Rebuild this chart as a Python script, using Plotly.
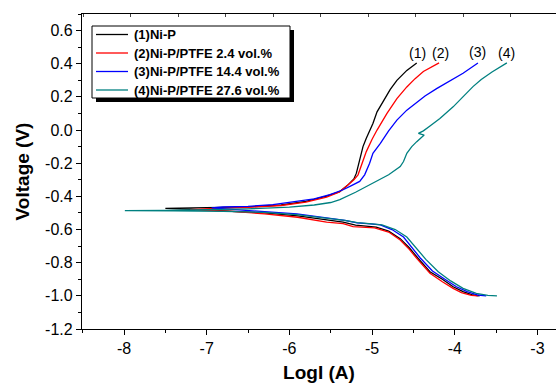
import plotly.graph_objects as go

# ---------------- data ----------------
series_names = ["(1)Ni-P", "(2)Ni-P/PTFE 2.4 vol.%", "(3)Ni-P/PTFE 14.4 vol.%", "(4)Ni-P/PTFE 27.6 vol.%"]
series_colors = ["#000000", "#FF0000", "#0000FF", "#008080"]
curve_labels = ["(1)", "(2)", "(3)", "(4)"]

# (1) Ni-P : cathodic branch (from -1.0 V) then anodic branch
logI_1 = [-3.70, -3.78, -3.90, -4.02, -4.15, -4.30, -4.45, -4.55, -4.66, -4.80, -4.95, -5.05, -5.20, -5.35,
          -5.55, -5.90, -6.30, -6.70, -7.10, -7.50,
          -7.30, -6.90, -6.50, -6.10, -5.80, -5.55, -5.39, -5.30, -5.22, -5.19, -5.15, -5.11, -5.07, -4.99,
          -4.94, -4.86, -4.78, -4.70, -4.58, -4.46]
volt_1 = [-1.000, -0.995, -0.975, -0.945, -0.900, -0.855, -0.770, -0.710, -0.655, -0.610, -0.585, -0.580, -0.573, -0.555,
          -0.540, -0.518, -0.500, -0.488, -0.480, -0.472,
          -0.470, -0.468, -0.463, -0.452, -0.430, -0.398, -0.371, -0.335, -0.295, -0.260, -0.180, -0.100, -0.050, 0.040,
          0.110, 0.180, 0.245, 0.300, 0.360, 0.405]

# (2) Ni-P/PTFE 2.4 vol.%
logI_2 = [-3.72, -3.80, -3.92, -4.02, -4.15, -4.30, -4.45, -4.55, -4.66, -4.80, -4.97, -5.10, -5.23, -5.35,
          -5.55, -5.90, -6.30, -6.70, -7.20,
          -6.90, -6.50, -6.10, -5.80, -5.55, -5.40, -5.30, -5.22, -5.17, -5.12, -5.07, -5.00, -4.94, -4.82, -4.70,
          -4.58, -4.48, -4.38, -4.19]
volt_2 = [-1.000, -0.997, -0.980, -0.955, -0.915, -0.864, -0.780, -0.720, -0.663, -0.615, -0.590, -0.588, -0.583, -0.565,
          -0.555, -0.526, -0.505, -0.490, -0.480,
          -0.472, -0.466, -0.455, -0.435, -0.405, -0.375, -0.335, -0.300, -0.270, -0.200, -0.130, -0.055, 0.000, 0.100, 0.190,
          0.260, 0.310, 0.353, 0.405]

# (3) Ni-P/PTFE 14.4 vol.%
logI_3 = [-3.62, -3.72, -3.85, -3.98, -4.12, -4.27, -4.42, -4.52, -4.62, -4.76, -4.90, -5.02, -5.18, -5.33,
          -5.51, -5.91, -6.30, -6.60, -6.94,
          -6.80, -6.50, -6.20, -5.91, -5.70, -5.51, -5.35, -5.25, -5.15, -5.09, -5.03, -4.99, -4.90, -4.80, -4.70,
          -4.58, -4.50, -4.36, -4.22, -4.05, -3.90, -3.72]
volt_3 = [-1.000, -0.995, -0.975, -0.945, -0.900, -0.850, -0.770, -0.710, -0.645, -0.600, -0.572, -0.566, -0.560, -0.545,
          -0.532, -0.506, -0.492, -0.482, -0.470,
          -0.464, -0.460, -0.450, -0.432, -0.415, -0.390, -0.360, -0.335, -0.310, -0.270, -0.200, -0.140, -0.080, -0.005, 0.060,
          0.120, 0.150, 0.205, 0.250, 0.300, 0.343, 0.405]

# (4) Ni-P/PTFE 27.6 vol.%
logI_4 = [-3.49, -3.60, -3.74, -3.90, -4.05, -4.20, -4.35, -4.45, -4.58, -4.72, -4.88, -5.00, -5.18, -5.33,
          -5.51, -5.91, -6.30, -6.80, -7.40, -7.99,
          -7.50, -7.00, -6.50, -6.00, -5.70, -5.50, -5.39, -5.20, -4.99, -4.80, -4.66, -4.62, -4.58, -4.52, -4.46,
          -4.40, -4.37, -4.44, -4.38, -4.30, -4.18, -4.02, -3.90, -3.78, -3.68, -3.55, -3.37]
volt_4 = [-1.000, -0.997, -0.985, -0.955, -0.910, -0.855, -0.780, -0.720, -0.645, -0.600, -0.572, -0.566, -0.558, -0.545,
          -0.535, -0.510, -0.497, -0.490, -0.487, -0.486,
          -0.484, -0.480, -0.475, -0.465, -0.452, -0.437, -0.420, -0.375, -0.320, -0.270, -0.220, -0.190, -0.140, -0.100, -0.070,
          -0.040, -0.030, -0.020, -0.005, 0.025, 0.070, 0.140, 0.200, 0.262, 0.305, 0.350, 0.405]

x_tick_vals = [-8, -7, -6, -5, -4, -3]
x_tick_text = ["-8", "-7", "-6", "-5", "-4", "-3"]
y_tick_vals = [-1.2, -1.0, -0.8, -0.6, -0.4, -0.2, 0.0, 0.2, 0.4, 0.6]
y_tick_text = ["-1.2", "-1.0", "-0.8", "-0.6", "-0.4", "-0.2", "0.0", "0.2", "0.4", "0.6"]

label_x = [-4.45, -4.17, -3.72, -3.37]
label_y = [0.465, 0.465, 0.468, 0.465]

# ---------------- layout geometry ----------------
W, H = 556, 385
ML, MR, MT, MB = 82, 0, 14, 56
PW, PH = W - ML - MR, H - MT - MB


def px(xp):
    return (xp - ML) / PW


def py(yp):
    return 1 - (yp - MT) / PH


FONT = "Liberation Sans, Arial, sans-serif"

xs = [logI_1, logI_2, logI_3, logI_4]
ys = [volt_1, volt_2, volt_3, volt_4]

fig = go.Figure()
for name, color, x, y in zip(series_names, series_colors, xs, ys):
    fig.add_trace(go.Scatter(x=x, y=y, mode="lines", name=name, showlegend=False,
                             line=dict(color=color, width=1.3)))

# helper trace for the top axis ticks
fig.add_trace(go.Scatter(x=[None], y=[None], xaxis="x2", yaxis="y", showlegend=False, hoverinfo="skip"))

for lx, ly, txt in zip(label_x, label_y, curve_labels):
    fig.add_annotation(x=lx, y=ly, text=txt, showarrow=False, xanchor="center", yanchor="middle",
                       font=dict(family=FONT, size=14, color="#000000"))

# ---- legend box drawn by hand (box with drop shadow) ----
box_l, box_r, box_t, box_b = 92, 290, 26, 98
shadow = 4
fig.add_shape(type="rect", xref="paper", yref="paper",
              x0=px(box_l + shadow), x1=px(box_r + shadow), y0=py(box_b + shadow), y1=py(box_t + shadow),
              fillcolor="#000000", line=dict(width=0), layer="above")
fig.add_shape(type="rect", xref="paper", yref="paper",
              x0=px(box_l), x1=px(box_r), y0=py(box_b), y1=py(box_t),
              fillcolor="#FFFFFF", line=dict(color="#000000", width=1), layer="above")
row_y = [34.5, 53, 71.5, 90]
for name, color, ry in zip(series_names, series_colors, row_y):
    fig.add_shape(type="line", xref="paper", yref="paper",
                  x0=px(96), x1=px(128), y0=py(ry), y1=py(ry),
                  line=dict(color=color, width=1.3), layer="above")
    fig.add_annotation(xref="paper", yref="paper", x=px(132), y=py(ry), text="<b>%s</b>" % name,
                       showarrow=False, xanchor="left", yanchor="middle",
                       font=dict(family=FONT, size=13, color="#000000"))

fig.update_layout(
    width=W, height=H,
    margin=dict(l=ML, r=MR, t=MT, b=MB),
    paper_bgcolor="white", plot_bgcolor="white",
    font=dict(family=FONT, color="#000000"),
    showlegend=False,
    xaxis=dict(range=[-8.508, -2.776], tickvals=x_tick_vals, ticktext=x_tick_text, automargin=False,
               showgrid=False, zeroline=False, showline=True, linecolor="#000000", linewidth=1.3,
               mirror=True, ticks="outside", ticklen=5, tickwidth=1, tickcolor="#000000",
               minor=dict(dtick=0.5, tick0=0, ticks="outside", ticklen=3, tickcolor="#000000", showgrid=False),
               tickfont=dict(family=FONT, size=16),
               title=dict(text="<b>LogI (A)</b>", font=dict(family=FONT, size=19), standoff=9)),
    xaxis2=dict(overlaying="x", side="top", range=[-1.025, 8.954], tick0=0, dtick=1, automargin=False,
                showticklabels=False, ticks="inside", ticklen=3, tickcolor="#444444",
                showgrid=False, zeroline=False, showline=False),
    yaxis=dict(range=[-1.2, 0.7], tickvals=y_tick_vals, ticktext=y_tick_text, automargin=False,
               showgrid=False, zeroline=False, showline=True, linecolor="#000000", linewidth=1.3,
               ticks="outside", ticklen=5, tickwidth=1, tickcolor="#000000",
               minor=dict(dtick=0.1, tick0=0, ticks="outside", ticklen=3, tickcolor="#000000", showgrid=False),
               tickfont=dict(family=FONT, size=16),
               title=dict(text="<b>Voltage (V)</b>", font=dict(family=FONT, size=19), standoff=10)),
)

fig.write_html("out.html", config={"displayModeBar": False},
               post_script="document.body.style.margin='0';document.body.style.overflow='hidden';")
